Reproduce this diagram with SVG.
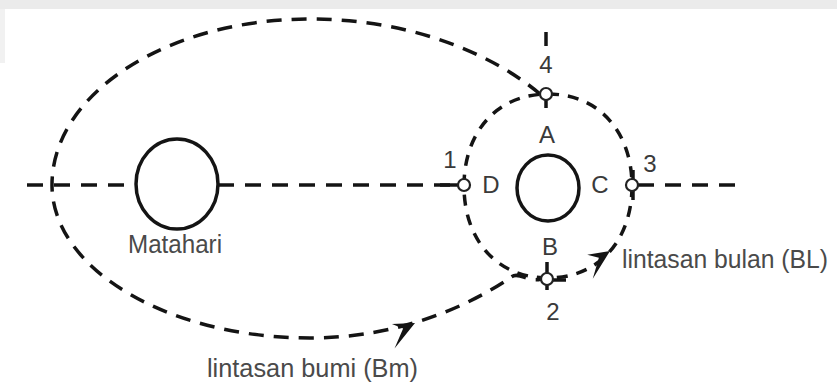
<svg xmlns="http://www.w3.org/2000/svg" width="837" height="387" viewBox="0 0 837 387">
  <style>
    .dash { fill: none; stroke: #141414; stroke-width: 3.5; stroke-dasharray: 15 10; }
    .mdash { fill: none; stroke: #141414; stroke-width: 3.5; stroke-dasharray: 11 9; }
    .hdash { fill: none; stroke: #141414; stroke-width: 3.5; stroke-dasharray: 16 11; }
    .tick { fill: none; stroke: #141414; stroke-width: 3.5; }
    .body { fill: #fff; stroke: #141414; stroke-width: 3.5; }
    .pt { fill: #fff; stroke: #222; stroke-width: 2.2; }
    .lbl { font-family: "Liberation Sans", Arial, sans-serif; font-size: 24px; fill: #3a3a3a; text-anchor: middle; }
    .cap { font-family: "Liberation Sans", Arial, sans-serif; font-size: 26px; fill: #4a4a4a; }
    .ah { fill: #141414; }
  </style>
  <defs>
    <path id="ah" d="M0,0 L-22,-7 L-13,1 L-28,17 Z"/>
  </defs>
  <rect x="0" y="0" width="837" height="387" fill="#ffffff"/>
  <rect x="0" y="0" width="837" height="9" fill="#ebebeb"/>
  <rect x="0" y="9" width="5" height="54" fill="#f1f1f1"/>

  <g id="connectors">
    <path class="hdash" d="M27,185 H136"/>
    <path class="hdash" d="M218,185 H457"/>
    <path class="hdash" d="M638,185 H735"/>
    <path id="earth-orbit" class="dash" d="M540,94 C500,60 420,19 310,19 C168,19 52,93 52,185 C52,269 168,338 310,338 C400,338 470,305 510,278 C518,270 528,283 541,279"/>
    <path id="moon-orbit" class="mdash" d="M548,94 C599,94 632,132 632,186 C632,240 599,278 548,278 C497,278 464,240 464,186 C464,132 497,94 548,94 Z"/>
    <path class="tick" d="M546,32 V46"/>
    <path class="tick" d="M546,88 V108"/>
    <path class="tick" d="M547,262 V290"/>
    <path class="tick" d="M633,170 V200"/>
    <path class="tick" d="M440,185 H458"/>
    <path class="tick" d="M553,280 H566"/>
    <use href="#ah" class="ah" transform="translate(415,323) rotate(-20)"/>
    <use href="#ah" class="ah" transform="translate(610,251) rotate(-27)"/>
  </g>

  <g id="sun">
    <ellipse class="body" cx="177" cy="184" rx="41" ry="45"/>
    <text class="cap" x="128" y="253" textLength="94" lengthAdjust="spacingAndGlyphs" style="font-size:25px">Matahari</text>
  </g>
  <g id="moon-center">
    <ellipse class="body" cx="548" cy="188" rx="31" ry="33"/>
  </g>
  <g id="point-1">
    <circle class="pt" cx="464" cy="185" r="6"/>
    <text class="lbl" x="450" y="168">1</text>
  </g>
  <g id="point-2">
    <circle class="pt" cx="547" cy="279" r="6"/>
    <text class="lbl" x="553" y="320">2</text>
  </g>
  <g id="point-3">
    <circle class="pt" cx="632" cy="185" r="6"/>
    <text class="lbl" x="650" y="172">3</text>
  </g>
  <g id="point-4">
    <circle class="pt" cx="546" cy="94" r="6"/>
    <text class="lbl" x="546" y="73">4</text>
  </g>
  <g id="label-A"><text class="lbl" x="547" y="143">A</text></g>
  <g id="label-B"><text class="lbl" x="550" y="255">B</text></g>
  <g id="label-C"><text class="lbl" x="600" y="193">C</text></g>
  <g id="label-D"><text class="lbl" x="491" y="193">D</text></g>
  <g id="label-earth-orbit">
    <text class="cap" x="207" y="377" textLength="211" lengthAdjust="spacingAndGlyphs">lintasan bumi (Bm)</text>
  </g>
  <g id="label-moon-orbit">
    <text class="cap" x="622" y="268" textLength="206" lengthAdjust="spacingAndGlyphs" style="font-size:25px">lintasan bulan (BL)</text>
  </g>
</svg>
